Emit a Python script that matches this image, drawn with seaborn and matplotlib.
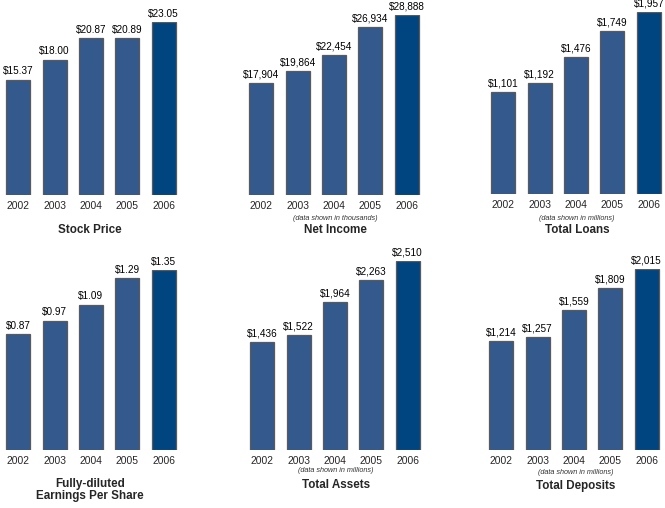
import numpy as np
import pandas as pd
import seaborn as sns
import matplotlib.pyplot as plt

# data
years = ["2002", "2003", "2004", "2005", "2006"]
stock_price = [15.37, 18.00, 20.87, 20.89, 23.05]
net_income = [17904, 19864, 22454, 26934, 28888]
total_loans = [1101, 1192, 1476, 1749, 1957]
eps = [0.87, 0.97, 1.09, 1.29, 1.35]
total_assets = [1436, 1522, 1964, 2263, 2510]
total_deposits = [1214, 1257, 1559, 1809, 2015]

W, H = 665, 508
bar_color = "#34598c"
last_color = "#00457f"
palette = [bar_color] * 4 + [last_color]

sns.set_style("white")
plt.rcParams["font.family"] = ["Liberation Sans", "DejaVu Sans"]

fig = plt.figure(figsize=(6.65, 5.08), dpi=100)


def px(x, y):
    # pixel position -> figure fraction
    return x / W, 1 - y / H


# values, label format, axes left, baseline y, top y, title, title x, title y, note, note y
panels = [
    (stock_price, "${:.2f}", 0, 195, 22, "Stock Price", 90, 230, None, None),
    (net_income, "${:,}", 243, 195, 15, "Net Income", 335, 230, "(data shown in thousands)", 218),
    (total_loans, "${:,}", 485, 194, 12, "Total Loans", 577, 230, "(data shown in millions)", 218),
    (eps, "${:.2f}", 0, 450, 270, "Fully-diluted\nEarnings Per Share", 90, 490, None, None),
    (total_assets, "${:,}", 244, 450, 261, "Total Assets", 336, 485, "(data shown in millions)", 471),
    (total_deposits, "${:,}", 483, 450, 269, "Total Deposits", 576, 486, "(data shown in millions)", 473),
]

for vals, fmt, left, base, top, title, tx, ty, note, ny in panels:
    ax = fig.add_axes([left / W, 1 - base / H, 182 / W, (base - top) / H])
    df = pd.DataFrame({"year": years, "value": vals})
    sns.barplot(data=df, x="year", y="value", hue="year", palette=palette,
                legend=False, width=0.66, edgecolor="#5a5a5a", linewidth=0.9,
                saturation=1, ax=ax)
    for cont, v in zip(ax.containers, vals):
        ax.bar_label(cont, labels=[fmt.format(v)], padding=2.5,
                     fontsize=7.2, color="black")
    ax.set_xlim(-0.5, 4.5)
    ax.set_ylim(0, max(vals))
    ax.set_xlabel("")
    ax.set_ylabel("")
    ax.set_yticks([])
    ax.tick_params(axis="x", length=0, pad=4, labelsize=7.4)
    sns.despine(ax=ax, left=True, bottom=True)
    ax.patch.set_alpha(0)

    x, y = px(tx, ty)
    fig.text(x, y, title, ha="center", va="center", fontsize=8.4,
             fontweight="bold", linespacing=1.1)
    if note:
        x, y = px(tx, ny)
        fig.text(x, y, note, ha="center", va="center", fontsize=5.2,
                 style="italic", color="#333333")

fig.savefig("out.png", dpi=100)
